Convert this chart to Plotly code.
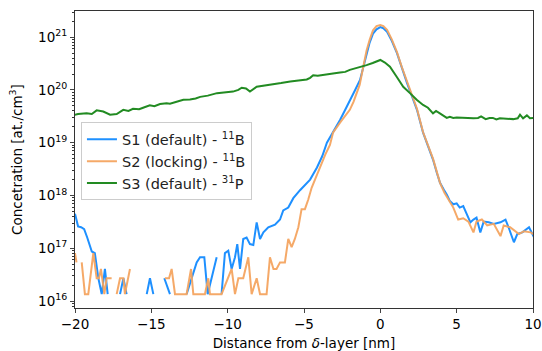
import plotly.graph_objects as go

# ---------------- data ----------------
s1_x = [-20.0, -19.8, -19.6, -19.4, -19.2, -19.0, -18.9, -18.7, -18.47, -18.25, -18.04, -17.86, -17.7,
        -17.05, -16.83, -16.62, -16.4,
        -15.3, -15.09, -14.87, -14.7,
        -14.15, -13.78, -13.6,
        -12.69, -12.36, -12.03, -11.81, -11.53, -11.31, -11.05, -10.72, -10.6,
        -10.4, -10.18, -9.96, -9.74, -9.52, -9.37, -9.19, -8.98, -8.76, -8.54, -8.32, -8.1, -7.88,
        -7.66, -7.34, -6.9, -6.57, -6.36, -6.03, -5.7, -5.26, -4.9, -4.6, -4.15, -3.8, -3.5, -3.1,
        -2.64, -2.3, -2.0, -1.65, -1.33, -1.1, -0.9, -0.7, -0.48, -0.25, 0.0, 0.2, 0.44, 0.75, 1.09,
        1.4, 1.75, 2.1, 2.4, 2.8, 3.1, 3.45, 3.7, 3.91, 4.15, 4.35, 4.55, 4.78, 5.0, 5.2, 5.43, 5.66,
        5.9, 6.1, 6.3, 6.55, 6.77, 7.1, 7.43, 7.87, 8.2, 8.4, 8.75, 8.97, 9.3, 9.74, 10.07]
s1_y = [4.5e17, 2.6e17, 2.5e17, 2.3e17, 1.6e17, 1.0e17, 8.7e16, 8.1e16, 2.7e16, 1.35e16, 4.05e16, 1.35e16, None,
        1.35e16, 2.7e16, 1.35e16, None,
        1.35e16, 2.7e16, 1.35e16, None,
        2.7e16, 1.35e16, None,
        1.35e16, 2.7e16, 5.4e16, 6.75e16, 6.75e16, 1.35e16, 2.7e16, 6.75e16, None,
        1.35e16, 8.1e16, 9.0e16, 4.05e16, 6.75e16, 1.2e17, 4.05e16, 1.5e17, 1.6e17, 1.2e17, 1.15e17, 3.1e17, 1.5e17,
        2.0e17, 2.5e17, 2.8e17, 3.5e17, 5.2e17, 5.9e17, 8.9e17, 1.26e18, 1.6e18, 2.0e18, 3.4e18, 5.6e18, 1.0e19, 1.55e19,
        2.7e19, 4.2e19, 6.5e19, 1.0e20, 1.55e20, 2.8e20, 5.0e20, 7.9e20, 1.17e21, 1.41e21, 1.55e21, 1.48e21, 1.26e21, 8.5e20, 5.0e20,
        2.6e20, 1.35e20, 7.2e19, 4.2e19, 1.55e19, 8.9e18, 4.8e18, 2.7e18, 1.74e18, 1.3e18, 1.05e18, 7.9e17, 6.8e17, 7.1e17, 5.9e17, 6.3e17, 4.4e17,
        3.1e17, 3.5e17, 3.8e17, 2.0e17, 3.2e17, 3.1e17, 2.9e17, 3.1e17, 3.5e17, 2.5e17, 1.3e17, 1.85e17, 2.0e17, 2.5e17, 1.6e17]

s2_x = [-20.0, -19.9, -19.8, -19.56, -19.35, -19.13, -18.8, -18.58, -18.43, -18.3, -18.08, -17.93, -17.6, -17.5,
        -17.27, -17.05, -16.83, -16.73, -16.4, -16.3,
        -14.11, -13.84, -13.67, -13.45, -13.1, -12.69, -12.4, -12.25, -11.9, -11.49, -11.27, -11.16, -10.94,
        -10.7, -10.4, -9.74, -9.52, -9.3, -8.98, -8.65, -8.43, -8.1, -7.88, -7.45, -7.23, -7.0, -6.8,
        -6.57, -6.25, -6.03, -5.81, -5.6, -5.37, -5.16, -4.94, -4.72, -4.5, -4.28, -3.95, -3.6, -3.3, -3.1,
        -2.64, -2.3, -2.0, -1.75, -1.53, -1.35, -1.2, -0.9, -0.7, -0.48, -0.25, 0.0, 0.2, 0.44, 0.75, 1.09,
        1.4, 1.75, 2.1, 2.4, 2.8, 3.1, 3.45, 3.7, 3.91, 4.2, 4.45, 4.78, 5.1, 5.43, 5.77, 6.1, 6.3, 6.65,
        7.0, 7.43, 7.87, 8.08, 8.5, 9.08, 9.4, 9.85, 10.1]
s2_y = [8.1e16, 5.4e16, None, 5.4e16, 1.35e16, 1.35e16, 8.1e16, 2.7e16, 2.7e16, 4.05e16, 1.35e16, 2.7e16, 2.7e16, None,
        1.35e16, 2.7e16, 2.7e16, 1.35e16, 4.05e16, None,
        2.7e16, 2.7e16, 4.05e16, 1.35e16, 1.35e16, 1.35e16, 4.05e16, 1.35e16, 1.35e16, 1.35e16, 2.7e16, 1.35e16, 1.35e16,
        1.35e16, 1.35e16, 4.05e16, 1.35e16, 2.7e16, 2.7e16, 6.75e16, 1.35e16, 2.7e16, 1.35e16, 1.35e16, 6.75e16, 4.05e16, 4.05e16,
        5.4e16, 5.4e16, 1.5e17, 1.05e17, 1.5e17, 2.5e17, 5.5e17, 5.5e17, 8.4e17, 1.4e18, 2.0e18, 3.5e18, 6.0e18, 9.1e18, 1.55e19,
        2.4e19, 3.2e19, 4.2e19, 6.0e19, 8.7e19, 1.26e20, 2.1e20, 5.6e20, 8.9e20, 1.35e21, 1.62e21, 1.7e21, 1.62e21, 1.38e21, 9.1e20, 5.2e20,
        2.75e20, 1.41e20, 7.6e19, 4.4e19, 1.58e19, 9.3e18, 5.0e18, 2.8e18, 1.74e18, 1.12e18, 8.3e17, 5.9e17, 3.5e17, 3.7e17, 3.2e17, 2.0e17, 3.2e17, 3.5e17,
        2.7e17, 2.9e17, 1.7e17, 2.7e17, 2.5e17, 1.85e17, 2.1e17, 2.0e17, 1.8e17]

s3_x = [-20.2, -19.8, -19.24, -18.9, -18.58, -18.15, -17.7, -17.27, -16.84, -16.5, -16.2, -15.8, -15.54,
        -15.1, -14.8, -14.43, -14.0, -13.78, -13.4, -12.9, -12.47, -12.1, -11.8, -11.3, -10.7, -10.2, -9.65,
        -9.3, -9.08, -8.8, -8.54, -8.1, -7.6, -7.0, -6.5, -5.9, -5.26, -4.82, -4.6, -4.4, -4.1, -3.75, -3.4,
        -3.1, -2.64, -2.3, -2.0, -1.6, -1.2, -0.9, -0.5, -0.2, 0.0, 0.3, 0.63, 1.07, 1.5, 1.94, 2.38, 2.8,
        3.12, 3.45, 3.65, 3.9, 4.35, 4.55, 4.78, 5.0, 5.3, 5.66, 6.1, 6.4, 6.6, 6.9, 7.15, 7.37, 7.6, 7.83,
        8.3, 8.7, 9.0, 9.15, 9.35, 9.6, 9.8, 10.1]
s3_y = [3.3e19, 3.5e19, 3.6e19, 3.5e19, 4.1e19, 3.9e19, 3.4e19, 3.5e19, 4.2e19, 4.0e19, 4.4e19, 4.3e19, 4.6e19,
        5.1e19, 4.9e19, 5.4e19, 5.6e19, 5.5e19, 5.9e19, 6.5e19, 6.6e19, 6.9e19, 7.4e19, 7.8e19, 8.7e19, 8.9e19, 9.3e19,
        1.0e20, 1.1e20, 1.07e20, 9.3e19, 1.15e20, 1.2e20, 1.29e20, 1.35e20, 1.45e20, 1.55e20, 1.58e20, 1.7e20, 1.9e20, 1.86e20, 1.9e20, 1.95e20,
        2.04e20, 2.14e20, 2.2e20, 2.4e20, 2.57e20, 2.75e20, 2.95e20, 3.24e20, 3.55e20, 3.7e20, 3.3e20, 2.75e20, 1.78e20, 1.15e20, 8.7e19, 6.5e19, 5.2e19,
        4.6e19, 3.6e19, 4.0e19, 3.6e19, 2.95e19, 3.1e19, 2.95e19, 3.0e19, 2.95e19, 2.95e19, 2.9e19, 2.95e19, 3.16e19, 2.8e19, 2.95e19, 2.95e19, 2.75e19, 2.9e19,
        2.8e19, 2.8e19, 2.9e19, 3.4e19, 2.9e19, 3.3e19, 2.9e19, 2.95e19]

series_names = ["S1 (default) - <sup>11</sup>B",
                "S2 (locking) - <sup>11</sup>B",
                "S3 (default) - <sup>31</sup>P"]
x_ticks = [-20, -15, -10, -5, 0, 5, 10]
y_ticks = [1e16, 1e17, 1e18, 1e19, 1e20, 1e21]
y_ticktext = ["10<sup>16</sup>", "10<sup>17</sup>", "10<sup>18</sup>",
              "10<sup>19</sup>", "10<sup>20</sup>", "10<sup>21</sup>"]

# ---------------- figure ----------------
FONT = "DejaVu Sans"
fig = go.Figure()
fig.add_trace(go.Scatter(x=s1_x, y=s1_y, mode="lines", name=series_names[0],
                         line=dict(color="#1E90FF", width=2)))
fig.add_trace(go.Scatter(x=s2_x, y=s2_y, mode="lines", name=series_names[1],
                         line=dict(color="rgba(244,164,96,0.95)", width=2)))
fig.add_trace(go.Scatter(x=s3_x, y=s3_y, mode="lines", name=series_names[2],
                         line=dict(color="#228B22", width=2)))

minor_vals = [float(m) * 10.0 ** e for e in range(15, 22) for m in range(2, 10)]

fig.update_layout(
    width=542, height=351,
    margin=dict(l=75, r=9, t=11, b=43, autoexpand=False),
    paper_bgcolor="white", plot_bgcolor="white",
    font=dict(family=FONT, size=13.5, color="black"),
    showlegend=True,
    legend=dict(x=0.013, y=0.625, xanchor="left", yanchor="top",
                bordercolor="#cccccc", borderwidth=1,
                bgcolor="rgba(255,255,255,0.8)",
                font=dict(family=FONT, size=14.5, color="#222"),
                tracegroupgap=0, itemwidth=30),
    xaxis=dict(range=[-20, 10], tickvals=x_ticks, ticks="outside", ticklen=4,
               showline=True, linecolor="#333", linewidth=1, mirror=True,
               showgrid=False, zeroline=False, automargin=False,
               tickfont=dict(size=13.5),
               title=dict(text="Distance from <i>δ</i>-layer [nm]", standoff=10,
                          font=dict(size=13.5))),
    yaxis=dict(type="log", range=[15.868, 21.496], tickvals=y_ticks, ticktext=y_ticktext,
               ticks="outside", ticklen=4, automargin=False,
               tickfont=dict(size=13.5),
               minor=dict(ticks="outside", ticklen=2, tickvals=minor_vals, tickcolor="#333"),
               showline=True, linecolor="#333", linewidth=1, mirror=True,
               showgrid=False, zeroline=False,
               title=dict(text="Concetration [at./cm<sup>3</sup>]", standoff=12,
                          font=dict(size=13.5))),
)

fig.write_html("out.html")
